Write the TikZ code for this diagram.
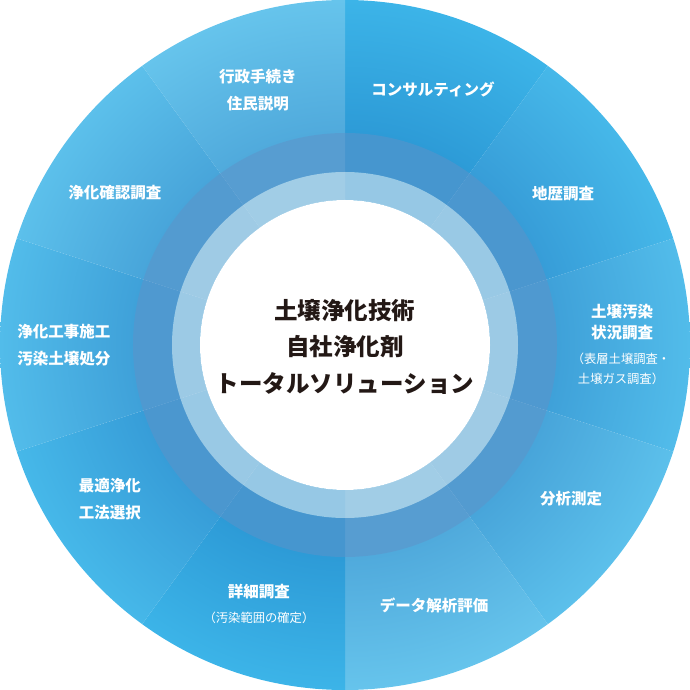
\documentclass[tikz,border=0pt]{standalone}
\usepackage{fontspec}
\setmainfont{Noto Sans CJK JP}
\usetikzlibrary{positioning}

\definecolor{centertext}{HTML}{231815}
\definecolor{bandblue}{HTML}{5F92C8}
\definecolor{ringblue}{HTML}{C4DCEB}
\colorlet{secin}{blue}
\colorlet{secout}{cyan}
\pgfdeclareradialshading[secin,secout]{sector}{\pgfpoint{0bp}{0bp}}{color(0bp)=(secin); color(15.4bp)=(secin); color(25bp)=(secout); color(50bp)=(secout)}

\begin{document}
\begin{tikzpicture}[x=1pt,y=1pt]
    \tikzstyle{lbl} = [text=white, font=\bfseries\fontsize{15.5}{27}\selectfont, align=center, inner sep=0pt]
    \tikzstyle{sub} = [text=white, font=\fontsize{12.3}{19.5}\selectfont, align=center, inner sep=0pt]
    \tikzstyle{hub} = [text=centertext, font=\bfseries\fontsize{23.5}{36.5}\selectfont, align=center, inner sep=0pt]
    \useasboundingbox (-345,-345) rectangle (345,345);

    % sectors, 36 degrees each
    \foreach \a/\cout/\cin in {54/3CB4E8/2D9BD7, 18/46B8E9/379DD8, -18/52BCEA/3FA1D9,
                               -54/5CC0EB/48A5DA, -90/66C4EC/50AADC, -126/3CB4E8/2D9BD7,
                               -162/46B8E9/379DD8, 162/52BCEA/3FA1D9, 126/5CC0EB/48A5DA,
                               90/66C4EC/50AADC} {
        \definecolor{secout}{HTML}{\cout}
        \definecolor{secin}{HTML}{\cin}
        \begin{scope}
            \clip (0,0) -- (\a:346) arc[start angle=\a, end angle=\a+36, radius=346] -- cycle;
            \shade[shading=sector] (0,0) circle (345);
        \end{scope}
    }

    % rings
    \fill[bandblue, fill opacity=0.5, even odd rule] (0,0) circle (212) (0,0) circle (173);
    \fill[ringblue, fill opacity=0.7, even odd rule] (0,0) circle (173) (0,0) circle (145);
    \fill[white] (0,0) circle (145);

    \node (hub) [hub] at (0,-1.5) {土壌浄化技術\\自社浄化剤\\トータルソリューション};

    \node (gyosei)  [lbl] at (-87,254.5) {行政手続き\\住民説明};
    \node (consul)  [lbl] at (88,256)    {コンサルティング};
    \node (chireki) [lbl] at (218,151)   {地歴調査};
    \node (dojo)    [lbl, font=\bfseries\fontsize{15.5}{21}\selectfont] at (277,23) {土壌汚染\\状況調査};
    \node (dojosub) [sub] at (276,-24)   {（表層土壌調査・\\土壌ガス調査）};
    \node (bunseki) [lbl] at (226,-154)  {分析測定};
    \node (data)    [lbl] at (89,-260)   {データ解析評価};
    \node (shosai)  [lbl] at (-86,-247)  {詳細調査};
    \node (shosaisub) [sub] at (-86,-273) {（汚染範囲の確定）};
    \node (saiteki) [lbl] at (-235,-154.5) {最適浄化\\工法選択};
    \node (koji)    [lbl] at (-281,-0.5) {浄化工事施工\\汚染土壌処分};
    \node (kakunin) [lbl] at (-230,152)  {浄化確認調査};
\end{tikzpicture}
\end{document}
